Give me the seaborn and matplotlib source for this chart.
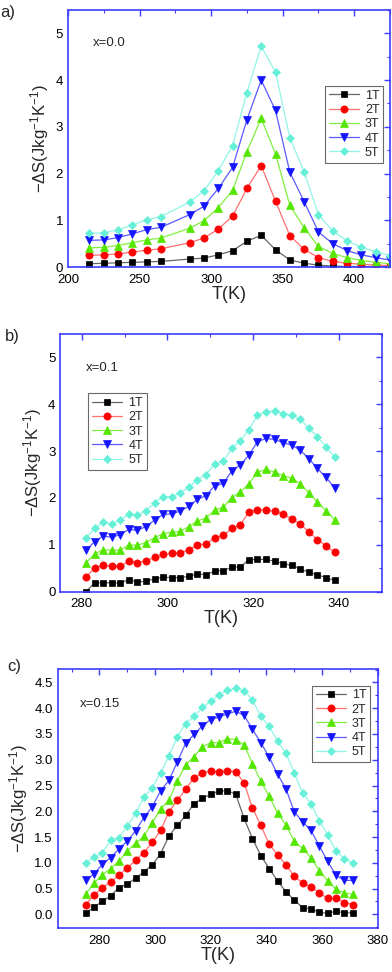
import numpy as np
import pandas as pd
import matplotlib
matplotlib.use("Agg")
import matplotlib.pyplot as plt
from matplotlib.ticker import MultipleLocator
import seaborn as sns

sns.set_theme(style="white")
plt.rcParams['font.family'] = ['Liberation Sans', 'DejaVu Sans']
plt.rcParams['mathtext.fontset'] = 'custom'
plt.rcParams['mathtext.rm'] = 'Liberation Sans'
plt.rcParams['mathtext.it'] = 'Liberation Sans:italic'
plt.rcParams['mathtext.bf'] = 'Liberation Sans:bold'

# ---------------- data ----------------
fields = ["1T", "2T", "3T", "4T", "5T"]

# panel a, x = 0.0
T_a = [215, 225, 235, 245, 255, 265, 285, 295, 305, 315, 325, 335, 345, 355, 365,
       375, 385, 395, 405, 415, 425]
a_1T = [0.07, 0.08, 0.09, 0.10, 0.11, 0.12, 0.17, 0.19, 0.26, 0.35, 0.55, 0.68, 0.37,
        0.15, 0.08, 0.04, 0.02, 0.01, 0.01, 0.01, 0.00]
a_2T = [0.25, 0.26, 0.28, 0.32, 0.36, 0.39, 0.52, 0.62, 0.81, 1.09, 1.68, 2.17, 1.41,
        0.67, 0.38, 0.20, 0.12, 0.08, 0.06, 0.04, 0.03]
a_3T = [0.41, 0.42, 0.46, 0.52, 0.58, 0.62, 0.83, 0.99, 1.27, 1.64, 2.47, 3.18, 2.42,
        1.32, 0.84, 0.44, 0.29, 0.20, 0.14, 0.10, 0.07]
a_4T = [0.57, 0.58, 0.63, 0.71, 0.80, 0.85, 1.12, 1.30, 1.68, 2.13, 3.15, 4.00, 3.35,
        2.03, 1.40, 0.75, 0.50, 0.35, 0.26, 0.20, 0.15]
a_5T = [0.72, 0.73, 0.80, 0.90, 1.01, 1.08, 1.39, 1.63, 2.06, 2.60, 3.73, 4.73, 4.17,
        2.77, 2.03, 1.12, 0.77, 0.56, 0.42, 0.33, 0.24]

# panel b, x = 0.1
T_b = [281, 283, 285, 287, 289, 291, 293, 295, 297, 299, 301, 303, 305, 307, 309,
       311, 313, 315, 317, 319, 321, 323, 325, 327, 329, 331, 333, 335, 337, 339]
b_1T = [0.00, 0.19, 0.19, 0.19, 0.18, 0.26, 0.20, 0.23, 0.27, 0.31, 0.30, 0.30, 0.33,
        0.38, 0.36, 0.44, 0.45, 0.52, 0.53, 0.68, 0.69, 0.69, 0.65, 0.60, 0.56, 0.49,
        0.41, 0.36, 0.30, 0.24]
b_2T = [0.32, 0.50, 0.57, 0.54, 0.55, 0.65, 0.62, 0.66, 0.73, 0.80, 0.82, 0.82, 0.90,
        1.00, 1.02, 1.15, 1.20, 1.35, 1.43, 1.70, 1.75, 1.74, 1.72, 1.65, 1.56, 1.44,
        1.28, 1.11, 0.98, 0.84]
b_3T = [0.62, 0.80, 0.90, 0.88, 0.89, 1.00, 0.99, 1.05, 1.15, 1.24, 1.27, 1.29, 1.39,
        1.51, 1.57, 1.74, 1.80, 2.01, 2.13, 2.30, 2.55, 2.61, 2.55, 2.48, 2.42, 2.30,
        2.11, 1.91, 1.73, 1.54]
b_4T = [0.88, 1.07, 1.19, 1.16, 1.22, 1.33, 1.31, 1.39, 1.53, 1.65, 1.66, 1.72, 1.82,
        1.97, 2.05, 2.26, 2.31, 2.57, 2.71, 2.91, 3.20, 3.27, 3.25, 3.18, 3.13, 3.02,
        2.84, 2.63, 2.44, 2.22]
b_5T = [1.14, 1.35, 1.48, 1.45, 1.53, 1.65, 1.64, 1.72, 1.90, 2.03, 2.02, 2.11, 2.23,
        2.39, 2.50, 2.72, 2.78, 3.06, 3.22, 3.45, 3.77, 3.84, 3.86, 3.80, 3.77, 3.68,
        3.49, 3.31, 3.09, 2.87]

# panel c, x = 0.15
T_c = [275, 278, 281, 284, 287, 290, 293, 296, 299, 302, 305, 308, 311, 314, 317,
       320, 323, 326, 329, 332, 335, 338, 341, 344, 347, 350, 353, 356, 359, 362,
       365, 368, 371]
c_1T = [0.02, 0.14, 0.25, 0.36, 0.52, 0.59, 0.70, 0.83, 0.96, 1.18, 1.52, 1.73, 1.92,
        2.15, 2.25, 2.33, 2.39, 2.40, 2.33, 1.86, 1.47, 1.14, 0.89, 0.65, 0.44, 0.28,
        0.13, 0.11, 0.04, 0.02, 0.06, 0.03, 0.03]
c_2T = [0.19, 0.37, 0.52, 0.63, 0.76, 0.90, 1.05, 1.20, 1.40, 1.63, 1.99, 2.21, 2.43,
        2.65, 2.75, 2.78, 2.77, 2.79, 2.77, 2.55, 2.06, 1.73, 1.36, 1.16, 0.96, 0.74,
        0.61, 0.54, 0.42, 0.31, 0.31, 0.23, 0.19]
c_3T = [0.39, 0.60, 0.77, 0.89, 1.03, 1.23, 1.38, 1.52, 1.78, 2.04, 2.22, 2.59, 2.90,
        3.06, 3.25, 3.33, 3.33, 3.41, 3.39, 3.29, 2.92, 2.58, 2.29, 1.96, 1.74, 1.42,
        1.28, 1.10, 0.85, 0.65, 0.49, 0.42, 0.39]
c_4T = [0.66, 0.78, 0.97, 1.10, 1.27, 1.42, 1.62, 1.88, 2.09, 2.40, 2.60, 2.96, 3.32,
        3.49, 3.66, 3.78, 3.83, 3.89, 3.94, 3.86, 3.59, 3.33, 3.05, 2.72, 2.44, 1.99,
        1.80, 1.63, 1.33, 1.03, 0.76, 0.66, 0.66]
c_5T = [1.00, 1.11, 1.19, 1.44, 1.49, 1.71, 1.96, 2.27, 2.45, 2.75, 3.07, 3.45, 3.70,
        3.84, 4.02, 4.13, 4.26, 4.35, 4.39, 4.34, 4.16, 3.84, 3.65, 3.36, 3.13, 2.75,
        2.35, 2.15, 1.82, 1.54, 1.23, 1.08, 1.00]

panel_labels = ["a)", "b)", "c)"]
comp_labels = ["x=0.0", "x=0.1", "x=0.15"]

# ---------------- style ----------------
marker_colors = ["#000000", "#ff0000", "#55e600", "#1414ff", "#66f0d8"]
line_colors = ["#666666", "#ff7070", "#80f040", "#5a5aff", "#90f5e5"]
markers = ["s", "o", "^", "v", "D"]
msizes = [4.5, 5.2, 5.2, 5.2, 4.2]
spine_col = "#3c3cff"

W, H = 392, 972
fig = plt.figure(figsize=(W / 100, H / 100), dpi=100)


def axrect(l, r, t, b):
    return [l / W, 1 - b / H, (r - l) / W, (b - t) / H]


rects = [axrect(68, 390, 10, 267), axrect(60.3, 381.7, 334, 591.7), axrect(57.7, 377.7, 669, 928.3)]
datasets = [
    (T_a, [a_1T, a_2T, a_3T, a_4T, a_5T]),
    (T_b, [b_1T, b_2T, b_3T, b_4T, b_5T]),
    (T_c, [c_1T, c_2T, c_3T, c_4T, c_5T]),
]
xlims = [(200, 425), (275, 350), (265, 380)]
ylims = [(0, 5.5), (0, 5.5), (-0.27, 4.76)]
xmaj = [50, 20, 20]
xmin = [25, 10, 10]
ymaj = [1, 1, 0.5]
ymin = [0.5, 0.5, 0.25]
leg_anchor = [(0.798, 0.704), (0.087, 0.77), (0.794, 0.936)]
text_pos = [(0.078, 0.87), (0.08, 0.868), (0.07, 0.865)]
plabel_pos = [(0, 960), (5, 636), (7, 306)]

for i in range(3):
    ax = fig.add_axes(rects[i])
    T, series = datasets[i]
    for k, vals in enumerate(series):
        df = pd.DataFrame({"T": T, "dS": vals})
        sns.lineplot(data=df, x="T", y="dS", ax=ax, color=line_colors[k], lw=0.9,
                     marker=markers[k], markersize=msizes[k],
                     markerfacecolor=marker_colors[k], markeredgecolor=marker_colors[k],
                     markeredgewidth=0.5, label=fields[k])
    ax.set_xlim(*xlims[i])
    ax.set_ylim(*ylims[i])
    ax.xaxis.set_major_locator(MultipleLocator(xmaj[i]))
    ax.xaxis.set_minor_locator(MultipleLocator(xmin[i]))
    ax.yaxis.set_major_locator(MultipleLocator(ymaj[i]))
    ax.yaxis.set_minor_locator(MultipleLocator(ymin[i]))
    if i == 2:
        ax.yaxis.set_major_formatter(matplotlib.ticker.FormatStrFormatter("%.1f"))
    else:
        ax.yaxis.set_major_formatter(matplotlib.ticker.FormatStrFormatter("%g"))
    ax.tick_params(which="both", direction="in", top=True, right=True,
                   color=spine_col, labelsize=9.5, labelcolor="black")
    ax.tick_params(axis="x", which="both", pad=4.8)
    ax.tick_params(axis="y", which="both", pad=3.5)
    ax.tick_params(which="major", length=4, width=1.0)
    ax.tick_params(which="minor", length=2.5, width=0.8)
    for sp in ax.spines.values():
        sp.set_color(spine_col)
        sp.set_linewidth(1.2)
        sp.set_visible(True)
    ax.set_xlabel("T(K)", fontsize=13, labelpad=0)
    ax.set_ylabel(r"$-\Delta$S(Jkg$^{-1}$K$^{-1}$)", fontsize=12, labelpad=3)
    ax.text(text_pos[i][0], text_pos[i][1], comp_labels[i], transform=ax.transAxes,
            fontsize=9.5, va="center", ha="left")
    leg = ax.legend(loc="upper left", bbox_to_anchor=leg_anchor[i], borderaxespad=0,
                    fontsize=9, frameon=True, fancybox=False, edgecolor="#444444",
                    handlelength=2.4, handletextpad=0.5, labelspacing=0.18,
                    borderpad=0.3, markerscale=1.0)
    leg.get_frame().set_linewidth(0.8)
    fig.text(plabel_pos[i][0] / W, plabel_pos[i][1] / H, panel_labels[i],
             fontsize=12, ha="left", va="center")

fig.savefig("out.png", dpi=100)
